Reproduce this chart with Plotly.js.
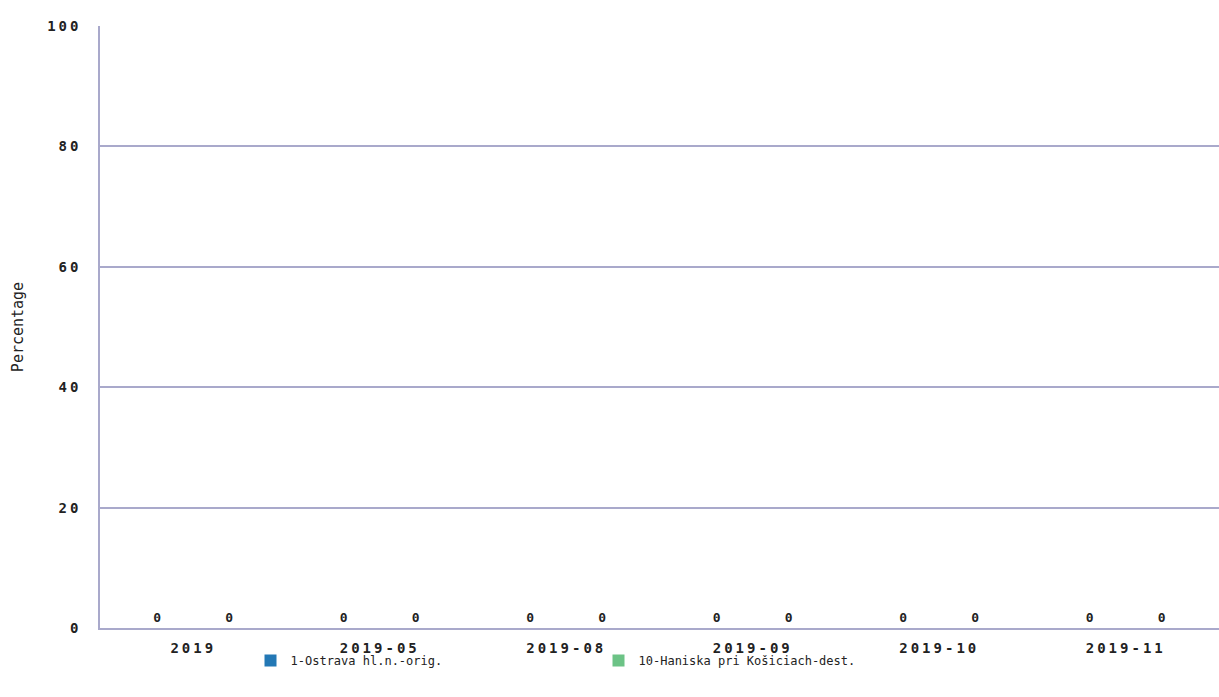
<!DOCTYPE html>
<html>
<head>
<meta charset="utf-8">
<script src="https://cdn.plot.ly/plotly-3.0.1.min.js"></script>
<style>
  html, body { margin: 0; padding: 0; background: #fff; }
  #chart { width: 1219px; height: 697px; }
  /* the reference uses a wide, spaced-out face for the tick labels */
  #chart .xtick text, #chart .ytick text { letter-spacing: 3px; }
  #chart .bartext text { letter-spacing: 1px; }
</style>
</head>
<body>
<div id="chart"></div>
<script>
// categories and series values
const categories = ['2019', '2019-05', '2019-08', '2019-09', '2019-10', '2019-11'];
const seriesNames = ['1-Ostrava hl.n.-orig.', '10-Haniska pri Košiciach-dest.'];
const ostravaValues = [0, 0, 0, 0, 0, 0];
const haniskaValues = [0, 0, 0, 0, 0, 0];
const yTicks = [0, 20, 40, 60, 80, 100];

const fontFamily = '"DejaVu Sans Mono", monospace';
const gridColor = '#a9a9cb';
const textColor = '#222222';

function makeTrace(name, values, color) {
    return {
        x: categories,
        y: values,
        name: name,
        type: 'bar',
        marker: { color: color },
        text: values.map(v => String(v)),
        textposition: 'outside',
        cliponaxis: false,
        textfont: { family: fontFamily, size: 13, color: textColor, weight: 'bold' },
        outsidetextfont: { family: fontFamily, size: 13, color: textColor, weight: 'bold' },
        hoverinfo: 'x+y+name'
    };
}

const traces = [
    makeTrace(seriesNames[0], ostravaValues, '#2378b5'),
    makeTrace(seriesNames[1], haniskaValues, '#6cc386')
];

const layout = {
    width: 1219,
    height: 697,
    barmode: 'group',
    bargap: 0.23,
    bargroupgap: 0,
    margin: { l: 100, r: 0, t: 26, b: 69 },
    paper_bgcolor: '#ffffff',
    plot_bgcolor: '#ffffff',
    font: { family: fontFamily, size: 12, color: textColor },
    xaxis: {
        type: 'category',
        showgrid: false,
        showline: true,
        linecolor: gridColor,
        linewidth: 1.5,
        ticks: '',
        ticklabelstandoff: 6,
        tickfont: { family: fontFamily, size: 14, color: textColor, weight: 'bold' },
        fixedrange: true
    },
    yaxis: {
        range: [0, 100],
        tickvals: yTicks,
        ticktext: yTicks.map(String),
        showgrid: true,
        gridcolor: gridColor,
        gridwidth: 1.5,
        zeroline: false,
        showline: true,
        linecolor: gridColor,
        linewidth: 1.5,
        ticks: '',
        ticklabelstandoff: 14,
        tickfont: { family: fontFamily, size: 14, color: textColor, weight: 'bold' },
        title: {
            text: 'Percentage',
            font: { family: fontFamily, size: 15, color: textColor },
            standoff: 29
        },
        fixedrange: true
    },
    showlegend: true,
    legend: {
        orientation: 'h',
        xref: 'paper',
        x: 0.1345,
        xanchor: 'left',
        y: -0.03,
        yanchor: 'top',
        bgcolor: 'rgba(0,0,0,0)',
        entrywidth: 303,
        entrywidthmode: 'pixels',
        itemwidth: 30,
        font: { family: fontFamily, size: 12, color: textColor }
    }
};

Plotly.newPlot('chart', traces, layout, { displayModeBar: false, responsive: false });
</script>
</body>
</html>
